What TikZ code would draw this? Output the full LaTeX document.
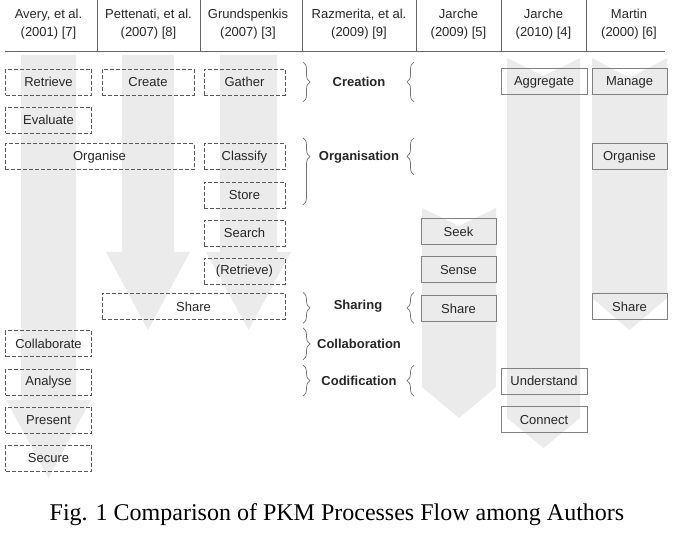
\documentclass[tikz,border=0pt]{standalone}
\usepackage{fontspec}
\setmainfont{Liberation Sans}
\newfontfamily\capfont{Liberation Serif}
\usepackage{tikz}
\usetikzlibrary{calc, positioning, decorations.pathreplacing}

\begin{document}
\begin{tikzpicture}[
      x=1pt, y=-1pt,
      node distance=11.4pt,
      txt/.style={font=\fontsize{13}{18}\selectfont, text=black!85},
      dbox/.style={txt, draw=black!65, dash pattern=on 4pt off 2pt, line width=0.8pt, minimum height=26pt, inner sep=0pt},
      sbox/.style={txt, draw=black!50, line width=1pt, minimum height=26pt, inner sep=0pt},
      hdr/.style={txt, align=center},
      stage/.style={txt, font=\fontsize{13}{16}\selectfont\bfseries},
      brc/.style={decorate, decoration={brace, amplitude=7pt}, draw=black!55, line width=0.7pt},
      flow/.style={fill=black!8, draw=none},
      rule/.style={draw=black!60, line width=0.8pt}
    ]
      \useasboundingbox (0,0) rectangle (677,534);

% Flow arrows (background)
      \fill[flow] (21,55) -- (76,55) -- (76,400) -- (91,400) -- (48.5,478) -- (6,400) -- (21,400) -- cycle;
      \fill[flow] (122,55) -- (174,55) -- (174,252) -- (190,252) -- (148,330) -- (106,252) -- (122,252) -- cycle;
      \fill[flow] (220,55) -- (277,55) -- (277,252) -- (291,252) -- (248.5,330) -- (206,252) -- (220,252) -- cycle;
      \fill[flow] (422,208) -- (459,226) -- (496,208) -- (496,387) -- (459,418) -- (422,387) -- cycle;
      \fill[flow] (507,58) -- (543.5,76) -- (580,58) -- (580,418) -- (543.5,448) -- (507,418) -- cycle;
      \fill[flow] (592,58) -- (629.5,78) -- (667,58) -- (667,298) -- (629.5,330) -- (592,298) -- cycle;

% Header
      \node[hdr] (avery) at (48.5,24.5) {Avery, et al.\\(2001) [7]};
      \node[hdr] (petten) at (148.5,24.5) {Pettenati, et al.\\(2007) [8]};
      \node[hdr] (grund) at (248,24.5) {Grundspenkis\\(2007) [3]};
      \node[hdr] (razm) at (359,24.5) {Razmerita, et al.\\(2009) [9]};
      \node[hdr] (jar09) at (458.5,24.5) {Jarche\\(2009) [5]};
      \node[hdr] (jar10) at (543.5,24.5) {Jarche\\(2010) [4]};
      \node[hdr] (martin) at (629,24.5) {Martin\\(2000) [6]};
      \foreach \x in {97,200,302,416,501,586}
        \draw[rule] (\x,0) -- (\x,51);
      \draw[rule] (5,51) -- (665,51);

% Avery
      \node[dbox, minimum width=86pt] (retr) at (48.5,82) {Retrieve};
      \node[dbox, minimum width=86pt, below=of retr] (eval) {Evaluate};
      \node[dbox, minimum width=189pt] (orgA) at (99.5,156.8) {Organise};
      \node[dbox, minimum width=86pt] (collab) at (48.5,343.8) {Collaborate};
      \node[dbox, minimum width=86pt, below=of collab] (analyse) {Analyse};
      \node[dbox, minimum width=86pt, below=of analyse] (present) {Present};
      \node[dbox, minimum width=86pt, below=of present] (secure) {Secure};

% Pettenati
      \node[dbox, minimum width=92pt] (create) at (148,82) {Create};
      \node[dbox, minimum width=183pt] (shareP) at (193.5,306.4) {Share};

% Grundspenkis
      \node[dbox, minimum width=81pt] (gather) at (244.5,82) {Gather};
      \node[dbox, minimum width=81pt] (classify) at (244.5,156.8) {Classify};
      \node[dbox, minimum width=81pt, below=of classify] (store) {Store};
      \node[dbox, minimum width=81pt, below=of store] (search) {Search};
      \node[dbox, minimum width=81pt, below=of search] (retrG) {(Retrieve)};

% Razmerita stages
      \node[stage] (crea) at (359,82) {Creation};
      \node[stage] (orgn) at (359,156.8) {Organisation};
      \node[stage] (shar) at (358,306.4) {Sharing};
      \node[stage] (coll) at (359,343.8) {Collaboration};
      \node[stage] (codi) at (359,381.2) {Codification};

      \draw[brc] ($(crea)+(-56,-20)$) -- ($(crea)+(-56,20)$);
      \draw[brc] ($(crea)+(55,20)$) -- ($(crea)+(55,-20)$);
      \draw[brc, decoration={aspect=0.28}] ($(orgn)+(-56,-19)$) -- ($(orgn)+(-56,48)$);
      \draw[brc] ($(orgn)+(55,18)$) -- ($(orgn)+(55,-19)$);
      \draw[brc] ($(shar)+(-55,-14)$) -- ($(shar)+(-55,17)$);
      \draw[brc] ($(shar)+(56,17)$) -- ($(shar)+(56,-14)$);
      \draw[brc] ($(coll)+(-56,-16)$) -- ($(coll)+(-56,16)$);
      \draw[brc] ($(codi)+(-56,-16)$) -- ($(codi)+(-56,15)$);
      \draw[brc] ($(codi)+(55,15)$) -- ($(codi)+(55,-16)$);

% Jarche 2009
      \node[sbox, minimum width=75pt] (seek) at (458.5,231.6) {Seek};
      \node[sbox, minimum width=75pt, below=of seek] (sense) {Sense};
      \node[sbox, minimum width=75pt, below=of sense] (shareJ) {Share};

% Jarche 2010
      \node[sbox, minimum width=86pt] (aggr) at (544,82) {Aggregate};
      \node[sbox, minimum width=86pt] (under) at (544,381.2) {Understand};
      \node[sbox, minimum width=86pt, below=of under] (conn) {Connect};

% Martin
      \node[sbox, minimum width=75pt] (manage) at (629.5,82) {Manage};
      \node[sbox, minimum width=75pt] (orgM) at (629.5,156.8) {Organise};
      \node[sbox, minimum width=75pt] (shareM) at (629.5,306.4) {Share};

% Caption
      \node[font=\capfont\fontsize{24}{28}\selectfont] (cap) at (337,515) {Fig. 1 Comparison of PKM Processes Flow among Authors};
    \end{tikzpicture}
\end{document}
